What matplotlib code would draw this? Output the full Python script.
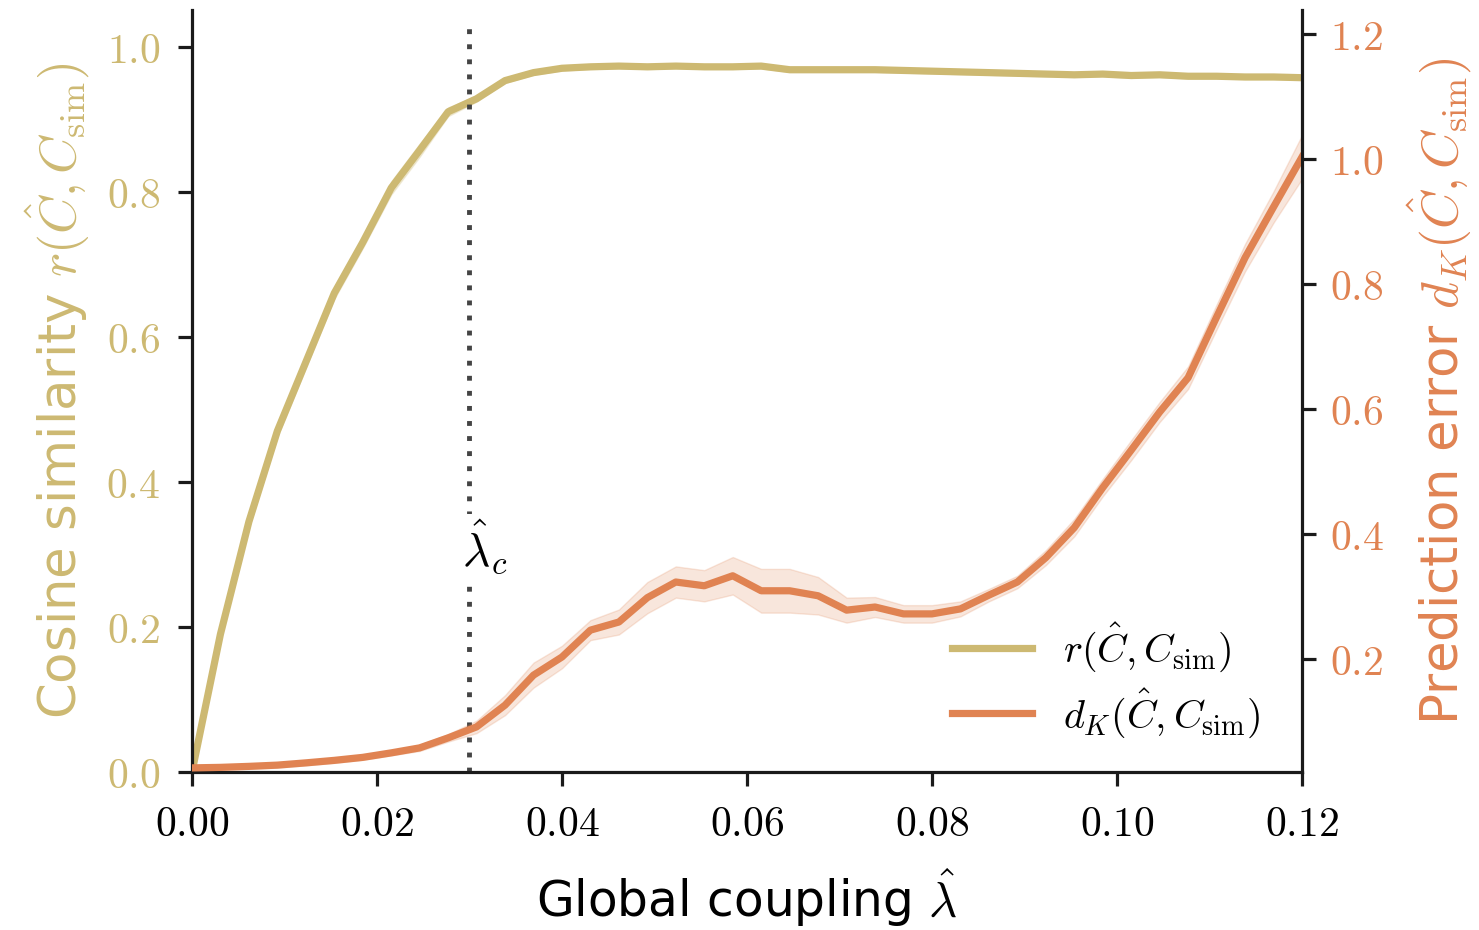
import numpy as np
import matplotlib
matplotlib.use("Agg")
import matplotlib.pyplot as plt
from matplotlib.ticker import FuncFormatter

plt.rcParams['mathtext.fontset'] = 'cm'
plt.rcParams['font.family'] = ['DejaVu Sans']

# -----------------------
# Data
# -----------------------
coupling = np.linspace(0, 0.12, 40)

cos_sim = [0.0, 0.19, 0.345, 0.47, 0.565, 0.66, 0.73, 0.805, 0.857, 0.91,
           0.928, 0.953, 0.964, 0.970, 0.972, 0.973, 0.972, 0.973, 0.972, 0.972,
           0.973, 0.968, 0.968, 0.968, 0.968, 0.967, 0.966, 0.965, 0.964, 0.963,
           0.962, 0.961, 0.962, 0.960, 0.961, 0.959, 0.959, 0.958, 0.958, 0.957]
cos_sim_sd = [0.0, 0.006, 0.008, 0.008, 0.008, 0.008, 0.008, 0.009, 0.009, 0.006,
              0.004, 0.003, 0.003, 0.003, 0.003, 0.003, 0.003, 0.003, 0.003, 0.003,
              0.003, 0.003, 0.003, 0.003, 0.003, 0.003, 0.003, 0.003, 0.003, 0.003,
              0.003, 0.003, 0.003, 0.003, 0.003, 0.003, 0.003, 0.003, 0.003, 0.003]

pred_err = [0.0256, 0.0264, 0.028, 0.030, 0.0336, 0.0376, 0.0424, 0.0496, 0.0576, 0.0736,
            0.0912, 0.126, 0.174, 0.203, 0.246, 0.259, 0.298, 0.323, 0.317, 0.333,
            0.309, 0.309, 0.301, 0.278, 0.283, 0.272, 0.272, 0.280, 0.302, 0.323,
            0.362, 0.410, 0.474, 0.534, 0.595, 0.650, 0.747, 0.842, 0.923, 1.003]
pred_err_sd = [0.004, 0.004, 0.004, 0.004, 0.004, 0.004, 0.004, 0.004, 0.005, 0.006,
               0.010, 0.016, 0.020, 0.018, 0.016, 0.020, 0.025, 0.025, 0.025, 0.030,
               0.035, 0.035, 0.030, 0.020, 0.016, 0.014, 0.014, 0.012, 0.010, 0.010,
               0.012, 0.014, 0.014, 0.016, 0.016, 0.018, 0.020, 0.022, 0.025, 0.035]

lambda_c = 0.03

x_ticks = [0.00, 0.02, 0.04, 0.06, 0.08, 0.10, 0.12]
left_ticks = [0.0, 0.2, 0.4, 0.6, 0.8, 1.0]
right_ticks = [0.2, 0.4, 0.6, 0.8, 1.0, 1.2]

# -----------------------
# Style
# -----------------------
YELLOW = "#CDB972"
ORANGE = "#E08352"
INK = "#1a1a1a"

cos_sim = np.array(cos_sim)
cos_sim_sd = np.array(cos_sim_sd)
pred_err = np.array(pred_err)
pred_err_sd = np.array(pred_err_sd)

fig = plt.figure(figsize=(14.79, 9.30), dpi=100)
ax = fig.add_axes([0.1298, 0.1699, 0.7505, 0.8191])
ax2 = ax.twinx()

# -----------------------
# Plot
# -----------------------
ax.fill_between(coupling, cos_sim - cos_sim_sd, cos_sim + cos_sim_sd,
                color=YELLOW, alpha=0.25, linewidth=1)
l1, = ax.plot(coupling, cos_sim, color=YELLOW, lw=5.2,
              label=r"$r(\hat{C}, C_{\rm sim})$")

ax2.fill_between(coupling, pred_err - pred_err_sd, pred_err + pred_err_sd,
                 color=ORANGE, alpha=0.2, linewidth=1)
l2, = ax2.plot(coupling, pred_err, color=ORANGE, lw=5.2,
               label=r"$d_K(\hat{C}, C_{\rm sim})$")

ax.axvline(lambda_c, ymin=0, ymax=0.985, color="#444444", lw=3.5, ls=(0, (1, 2.1)))
ax.text(lambda_c + 0.0017, 0.31, r"$\hat{\lambda}_c$", fontsize=34,
        ha="center", va="center",
        bbox=dict(facecolor="white", edgecolor="none", pad=3))

ax.set_xlim(0, 0.12)
ax.set_ylim(0, 1.05)
ax2.set_ylim(0.019, 1.238)

ax.set_xticks(x_ticks)
ax.set_yticks(left_ticks)
ax2.set_yticks(right_ticks)

fmt2 = FuncFormatter(lambda v, p: r"$%.2f$" % v)
fmt1 = FuncFormatter(lambda v, p: r"$%.1f$" % v)
ax.xaxis.set_major_formatter(fmt2)
ax.yaxis.set_major_formatter(fmt1)
ax2.yaxis.set_major_formatter(fmt1)

for a in (ax, ax2):
    a.spines["top"].set_visible(False)
    for s in a.spines.values():
        s.set_linewidth(2.3)
        s.set_color(INK)
    a.tick_params(length=10, width=2.3, color=INK, labelsize=30, pad=10)

ax.tick_params(axis="x", pad=12)
ax.tick_params(axis="y", labelcolor=YELLOW, pad=13)
ax2.tick_params(axis="y", labelcolor=ORANGE, pad=10)
ax2.spines["left"].set_visible(False)
ax2.spines["bottom"].set_visible(False)
ax.spines["right"].set_visible(False)

ax.set_xlabel(r"Global coupling $\hat{\lambda}$", fontsize=35, labelpad=16)
ax.set_ylabel(r"Cosine similarity $r(\hat{C}, C_{\rm sim})$", fontsize=37,
              color=YELLOW, labelpad=10)
ax2.set_ylabel(r"Prediction error $d_K(\hat{C}, C_{\rm sim})$", fontsize=37,
               color=ORANGE, labelpad=16)

ax2.legend(handles=[l1, l2], loc="lower right", bbox_to_anchor=(0.995, -0.005),
           frameon=False, fontsize=29, handlelength=2.0, handletextpad=0.75,
           labelspacing=0.3)

fig.savefig("out.png", dpi=100)
